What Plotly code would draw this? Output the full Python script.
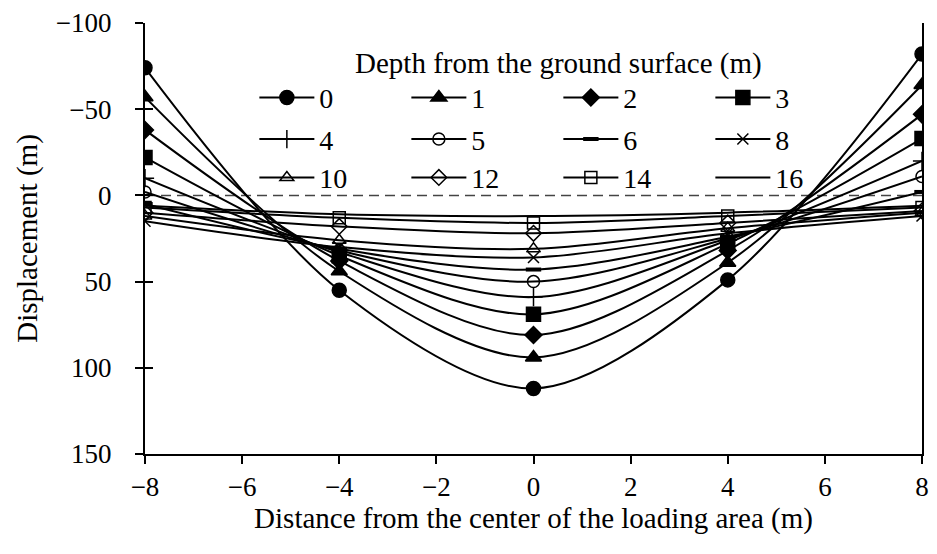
import plotly.graph_objects as go

x_vals = [-8, -4, 0, 4, 8]
depths = ["0", "1", "2", "3", "4", "5", "6", "8", "10", "12", "14", "16"]
d0 = [-74, 55, 112, 49, -82]
d1 = [-57, 44, 94, 39, -64]
d2 = [-38, 38, 81, 32, -47]
d3 = [-22, 35, 69, 28, -33]
d4 = [-10, 33, 59, 26, -20]
d5 = [-2, 32, 50, 25, -11]
d6 = [5, 31, 43, 24, -2]
d8 = [15, 30, 36, 22, 12]
d10 = [12, 26, 31, 19, 10]
d12 = [10, 18, 22, 16, 9]
d14 = [7, 13, 16, 12, 7]
d16 = [6, 11, 12, 10, 6]
series = [d0, d1, d2, d3, d4, d5, d6, d8, d10, d12, d14, d16]

symbols = ["circle", "triangle-up", "diamond", "square", "cross-thin", "circle-open",
           "line-ew", "x-thin", "triangle-up-open", "diamond-open", "square-open", None]
sizes = [14, 14, 13, 14, 13, 12, 11, 11, 12, 12, 12, 1]
mlw = [1.5, 1.5, 1.5, 1.5, 1.5, 1.5, 4, 1.5, 1.5, 1.5, 1.5, 1.5]
legends = ["legend"] * 4 + ["legend2"] * 4 + ["legend3"] * 4

FONT = "Liberation Serif"
FS_TICK = 27
FS_TITLE = 29
FS_LEG = 28

fig = go.Figure()
for name, ys, sym, sz, lw, lg in zip(depths, series, symbols, sizes, mlw, legends):
    if sym is None:
        mode = "lines"
        marker = None
    else:
        mode = "lines+markers"
        marker = dict(symbol=sym, size=sz, color="black",
                      line=dict(color="black", width=lw))
    fig.add_trace(go.Scatter(
        x=x_vals, y=ys, name=name, mode=mode, marker=marker,
        line=dict(color="black", width=2, shape="spline", smoothing=0.9),
        legend=lg, showlegend=True,
    ))

# invisible trace on overlaying axis to carry inside ticks
fig.add_trace(go.Scatter(x=[None], y=[None], yaxis="y2", showlegend=False))

fig.add_shape(type="line", xref="x", yref="y", x0=-8, x1=8, y0=0, y1=0,
              line=dict(color="#444444", width=1.5, dash="10px,6px"), layer="below")

leg_common = dict(orientation="h", xanchor="center", x=0.532, yanchor="middle",
                  font=dict(family=FONT, size=FS_LEG, color="black"),
                  bgcolor="rgba(0,0,0,0)", itemwidth=55, entrywidth=82,
                  traceorder="normal", itemclick=False)

fig.update_layout(
    width=937, height=554,
    margin=dict(l=145, r=8, t=20, b=100),
    paper_bgcolor="white", plot_bgcolor="white",
    font=dict(family=FONT, size=FS_TICK, color="black"),
    showlegend=True,
    legend=dict(**leg_common, y=0.87,
                title=dict(text="Depth from the ground surface (m)", side="top center",
                           font=dict(family=FONT, size=FS_TITLE))),
    legend2=dict(**leg_common, y=0.730),
    legend3=dict(**leg_common, y=0.641),
    xaxis=dict(range=[-8, 8], dtick=2, tick0=-8, showgrid=False, zeroline=False,
               showline=True, linecolor="black", linewidth=2,
               ticks="outside", ticklen=8, tickwidth=2, tickcolor="black",
               title=dict(text="Distance from the center of the loading area (m)", standoff=6,
                          font=dict(family=FONT, size=FS_TITLE)),
               tickfont=dict(family=FONT, size=FS_TICK)),
    yaxis=dict(range=[150, -100], dtick=50, showgrid=False, zeroline=False,
               showline=True, linecolor="black", linewidth=2, mirror=True,
               ticks="outside", ticklen=8, tickwidth=2, tickcolor="black",
               ticklabelstandoff=18,
               title=dict(text="Displacement (m)", standoff=10,
                          font=dict(family=FONT, size=FS_TITLE)),
               tickfont=dict(family=FONT, size=FS_TICK)),
    yaxis2=dict(range=[150, -100], dtick=50, overlaying="y", side="left",
                showgrid=False, zeroline=False, showline=False, showticklabels=False,
                ticks="inside", ticklen=8, tickwidth=2, tickcolor="black"),
)

fig.write_html("out.html")
